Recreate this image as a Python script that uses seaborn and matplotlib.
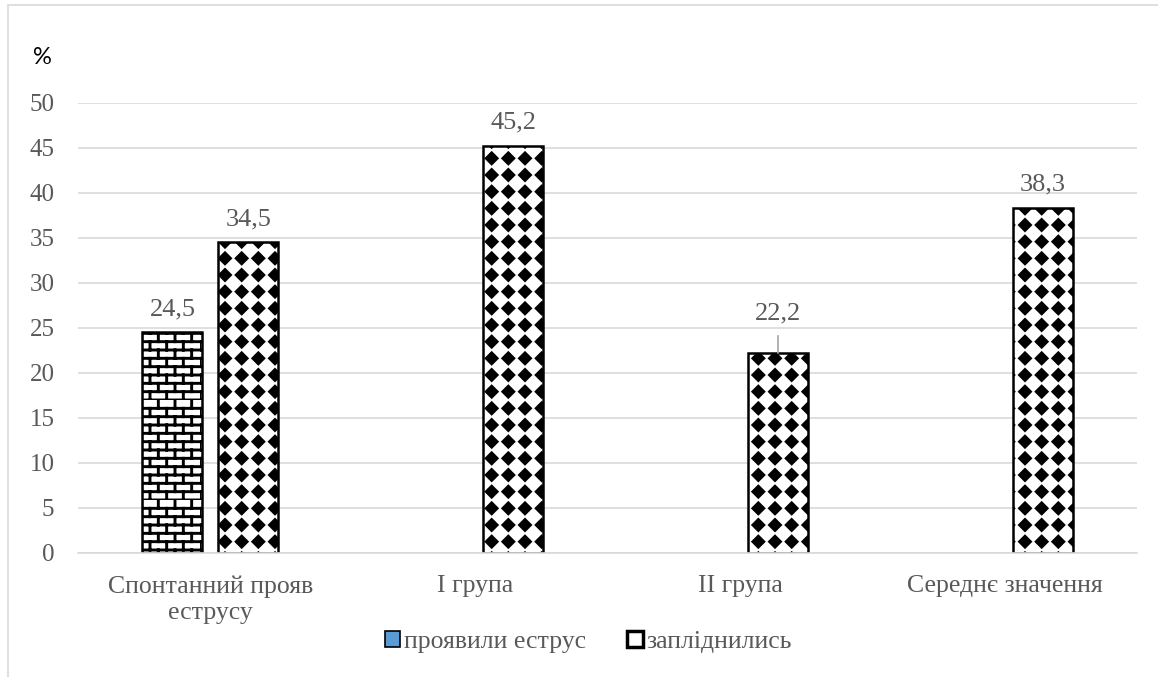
import warnings
warnings.filterwarnings("ignore")
import numpy as np
import pandas as pd
import matplotlib
matplotlib.use("Agg")
import matplotlib.pyplot as plt
import matplotlib.hatch as mhatch
from matplotlib.path import Path
import seaborn as sns
from matplotlib.patches import Patch, Rectangle

categories = ["Спонтанний прояв\nеструсу", "I група", "II група", "Середнє значення"]
series_names = ["проявили еструс", "запліднились"]
estrus = [24.5, np.nan, np.nan, np.nan]
fertilized = [34.5, 45.2, 22.2, 38.3]
yticks = list(range(0, 55, 5))


# ---- custom hatch patterns (brick 'b' and filled diamonds 'd') ----
class BrickHatch(mhatch.HatchPatternBase):
    def __init__(self, hatch, density):
        self.on = "b" in hatch
        self.rows = 12
        self.cols = 6
        self.num_vertices = (self.rows + self.rows * self.cols) * 2 if self.on else 0

    def set_vertices_and_codes(self, vertices, codes):
        segs = []
        for r in range(self.rows):
            y = r / self.rows
            segs.append(((0.0, y), (1.0, y)))
            off = 0.0 if r % 2 == 0 else 0.5 / self.cols
            for c in range(self.cols):
                x = c / self.cols + off
                segs.append(((x, y), (x, y + 1.0 / self.rows)))
        for i, (a, b) in enumerate(segs):
            vertices[2 * i] = a
            vertices[2 * i + 1] = b
            codes[2 * i] = Path.MOVETO
            codes[2 * i + 1] = Path.LINETO


class DiamondHatch(mhatch.HatchPatternBase):
    def __init__(self, hatch, density):
        self.on = "d" in hatch
        self.n = 6
        self.r = 0.054
        self.num_vertices = self.n * self.n * 5 if self.on else 0

    def set_vertices_and_codes(self, vertices, codes):
        k = 0
        for i in range(self.n):
            for j in range(self.n):
                cx = (i + 0.5) / self.n
                cy = (j + 0.5) / self.n
                r = self.r
                pts = [(cx, cy + r), (cx + r, cy), (cx, cy - r), (cx - r, cy), (cx, cy + r)]
                for m, p in enumerate(pts):
                    vertices[k] = p
                    codes[k] = Path.MOVETO if m == 0 else (Path.CLOSEPOLY if m == 4 else Path.LINETO)
                    k += 1


mhatch._hatch_types.append(BrickHatch)
mhatch._hatch_types.append(DiamondHatch)

rows = []
for c, v in zip(categories, estrus):
    rows.append({"cat": c, "series": series_names[0], "val": v})
for c, v in zip(categories, fertilized):
    rows.append({"cat": c, "series": series_names[1], "val": v})
df = pd.DataFrame(rows)

sns.set_theme(style="white")
plt.rcParams["font.family"] = ["Liberation Serif", "DejaVu Serif"]
plt.rcParams["hatch.linewidth"] = 2.1

fig = plt.figure(figsize=(11.58, 6.77), dpi=100)
ax = fig.add_axes([0.0674, 0.1832, 0.9146, 0.6647])

sns.barplot(data=df, x="cat", y="val", hue="series", hue_order=series_names,
            order=categories, ax=ax, width=0.574, gap=0.21, legend=False,
            palette=["white", "white"], edgecolor="black", linewidth=1.8,
            errorbar=None)

hatches = ["b", "d"]
for cont, h in zip(ax.containers, hatches):
    for bar in cont:
        bar.set_hatch(h)
        bar.set_edgecolor("black")

ax.set_ylim(0, 50)
ax.set_yticks(yticks)
ax.set_xlim(-0.5, 3.5)
ax.yaxis.grid(True, color="#d9d9d9", linewidth=1.2)
ax.set_axisbelow(True)
for s in ["top", "right", "left"]:
    ax.spines[s].set_visible(False)
ax.spines["bottom"].set_color("#d9d9d9")
ax.spines["bottom"].set_linewidth(1.2)
ax.tick_params(axis="both", length=0, labelcolor="#595959")
ax.tick_params(axis="y", labelsize=18, pad=17)
ax.tick_params(axis="x", labelsize=18.5, pad=16)
for t in ax.get_xticklabels():
    t.set_linespacing(1.25)
ax.set_xlabel("")
ax.set_ylabel("")

# data labels
for cont in ax.containers:
    for bar in cont:
        h = bar.get_height()
        if np.isnan(h) or h == 0:
            continue
        x = bar.get_x() + bar.get_width() / 2
        label = f"{h:.1f}".replace(".", ",")
        if abs(h - 22.2) < 1e-6:
            ax.annotate(label, xy=(x, h), xytext=(x, h + 4.45), ha="center", va="center",
                        fontsize=19, color="#595959",
                        arrowprops=dict(arrowstyle="-", color="#a6a6a6", lw=1.2,
                                        shrinkA=6, shrinkB=0))
        else:
            ax.text(x, h + 2.6, label, ha="center", va="center", fontsize=19, color="#595959")

fig.text(0.0285, 0.915, "%", fontsize=17, color="black", family="Lato", va="center")

handles = [Patch(facecolor="#5b9bd5", edgecolor="black", linewidth=1.2),
           Patch(facecolor="white", edgecolor="black", linewidth=2.5)]
fig.legend(handles, series_names, loc="center", bbox_to_anchor=(0.508, 0.052), ncol=2,
           frameon=False, fontsize=18.5, handlelength=0.6, handleheight=0.6,
           handletextpad=0.15, columnspacing=1.6, labelcolor="#595959")

fig.patches.append(Rectangle((0.007, -0.01), 1.2, 1.002, transform=fig.transFigure,
                             fill=False, edgecolor="#d9d9d9", linewidth=1.2))

fig.savefig("out.png", dpi=100)
